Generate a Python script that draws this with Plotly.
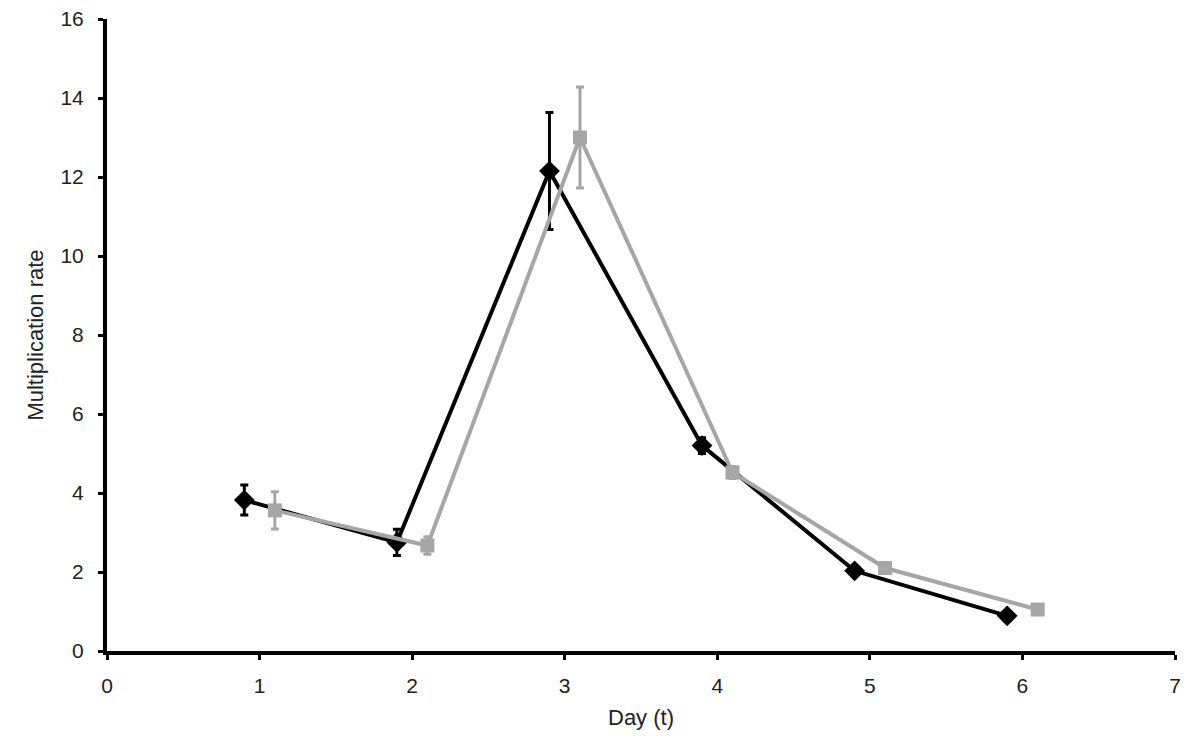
import plotly.graph_objects as go

day_black = [0.9, 1.9, 2.9, 3.9, 4.9, 5.9]
rate_black = [3.82, 2.75, 12.15, 5.2, 2.03, 0.89]
err_black = [0.38, 0.33, 1.48, 0.2, 0.1, 0.05]

day_gray = [1.1, 2.1, 3.1, 4.1, 5.1, 6.1]
rate_gray = [3.56, 2.67, 13.0, 4.52, 2.1, 1.05]
err_gray = [0.47, 0.22, 1.28, 0.15, 0.1, 0.05]

x_ticks = [0, 1, 2, 3, 4, 5, 6, 7]
y_ticks = [0, 2, 4, 6, 8, 10, 12, 14, 16]

FAM = "Liberation Sans, Arial, sans-serif"

fig = go.Figure()
fig.add_trace(go.Scatter(
    x=day_black, y=rate_black, mode="lines+markers",
    line=dict(color="black", width=4),
    marker=dict(symbol="diamond", size=16, color="black"),
    error_y=dict(type="data", array=err_black, color="black", thickness=3, width=4),
    showlegend=False,
))
fig.add_trace(go.Scatter(
    x=day_gray, y=rate_gray, mode="lines+markers",
    line=dict(color="#a6a6a6", width=4),
    marker=dict(symbol="square", size=14, color="#a6a6a6"),
    error_y=dict(type="data", array=err_gray, color="#a6a6a6", thickness=3, width=4),
    showlegend=False,
))
fig.update_layout(
    width=1192, height=739,
    margin=dict(l=99, r=25, t=11, b=96),
    plot_bgcolor="white", paper_bgcolor="white",
    font=dict(family=FAM, size=21, color="#222"),
)
fig.update_xaxes(
    range=[0, 7], tickvals=x_ticks, showgrid=False, zeroline=False,
    showline=True, linecolor="black", linewidth=4, automargin=False,
    ticks="outside", ticklen=5, tickwidth=3, tickcolor="black",
    ticklabelstandoff=8, ticklabeloverflow="allow",
    tickfont=dict(family=FAM, size=21, color="#222"),
    title=dict(text="Day (t)", standoff=14, font=dict(family=FAM, size=22, color="#222")),
)
fig.update_yaxes(
    range=[0, 16], tickvals=y_ticks, showgrid=False, zeroline=False,
    showline=True, linecolor="black", linewidth=4, automargin=False,
    ticks="outside", ticklen=5, tickwidth=3, tickcolor="black",
    ticklabelstandoff=10, ticklabeloverflow="allow",
    tickfont=dict(family=FAM, size=21, color="#222"),
    title=dict(text="Multiplication rate", standoff=12, font=dict(family=FAM, size=22, color="#222")),
)
fig.write_html("out.html")
